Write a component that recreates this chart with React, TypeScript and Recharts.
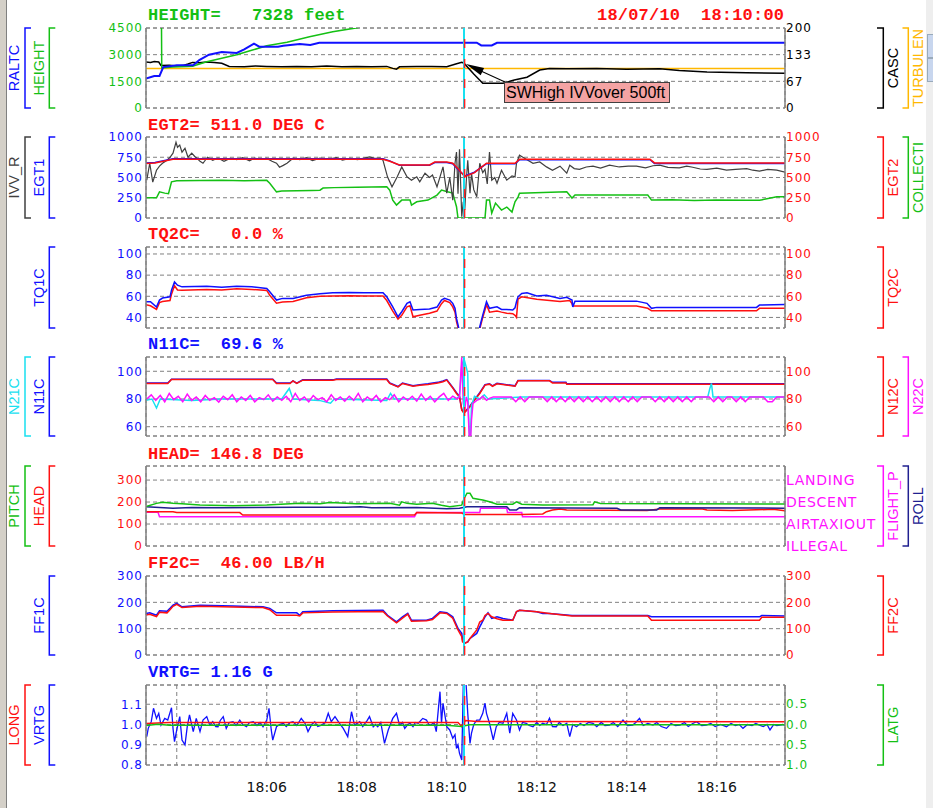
import React from 'react';
import { ComposedChart, Line, XAxis, YAxis, CartesianGrid, ReferenceLine } from 'recharts';

type P = [number, number];

// ---- time axis (seconds after 18:00:00) ----
const TIME_DOMAIN: [number, number] = [199, 1051];
const TIME_TICKS = [240, 360, 480, 600, 720, 840, 960];
const CURSOR_T = 623;
const DATE_LABEL = '18/07/10  18:10:00';

// ---- panel 1 : HEIGHT / RALTC / CASC / TURBULEN ----
const P1_TITLE = 'HEIGHT=   7328 feet';
const P1_LEFT_TICKS = [0, 1500, 3000, 4500];
const P1_RIGHT_TICKS = [0, 200 / 3, 400 / 3, 200];
const RALTC: P[] = [[199,1650],[210,1800],[217,1800],[222,2300],[240,2400],[262,2400],[270,2700],[283,3000],[300,3150],[320,3100],[330,3300],[343,3620],[350,3450],[375,3450],[382,3500],[404,3600],[418,3550],[430,3670],[640,3670],[646,3520],[660,3520],[667,3670],[1051,3670]];
const HEIGHT: P[] = [[199,9000],[219,9000],[220,2250],[235,2300],[261,2350],[280,2600],[300,2800],[320,3000],[341,3260],[360,3500],[387,3700],[417,4010],[448,4290],[481,4520],[520,4900],[623,7328],[1051,9000]];
const CASC: P[] = [[199,115],[205,114],[210,116],[216,115],[219,106],[230,107],[240,105],[248,106],[255,110],[261,114],[270,113],[280,115],[290,114],[300,112],[310,104],[330,103],[345,105],[360,104],[380,103],[400,104],[420,103],[440,105],[460,103],[480,104],[500,103],[520,104],[528,99],[533,97],[537,103],[560,104],[580,104],[600,103],[612,110],[620,114],[623,112],[636,85],[648,62],[675,62],[690,70],[707,77],[724,95],[737,99],[760,98],[800,99],[840,97],[884,98],[910,94],[947,90],[1000,88],[1051,87]];
const TURBULEN: P[] = [[199,99],[1051,99]];

// ---- panel 2 : EGT ----
const P2_TITLE = 'EGT2= 511.0 DEG C';
const P2_TICKS = [0, 250, 500, 750, 1000];
const EGT2: P[] = [[199,673],[211,680],[235,726],[515,726],[524,700],[537,655],[577,655],[584,690],[600,690],[608,676],[616,600],[624,511],[637,560],[653,676],[691,676],[697,726],[871,726],[877,680],[1051,680]];
const EGT1: P[] = [[199,680],[211,685],[235,730],[515,730],[524,705],[537,650],[577,650],[584,685],[600,685],[608,670],[616,590],[624,520],[637,565],[653,670],[691,670],[697,720],[871,720],[877,672],[1051,672]];
const IVV_R: P[] = [[200,467],[204,676],[208,443],[213,590],[217,640],[221,676],[227,713],[231,750],[235,800],[239,935],[241,873],[244,900],[247,812],[251,860],[255,750],[260,800],[264,760],[267,738],[271,700],[275,676],[281,750],[288,713],[295,740],[303,700],[311,735],[320,720],[328,745],[337,705],[344,740],[351,725],[360,735],[367,700],[373,676],[377,627],[382,650],[387,676],[395,738],[404,720],[413,745],[421,710],[431,740],[441,725],[453,745],[461,715],[471,735],[481,720],[490,740],[497,754],[505,735],[511,740],[515,713],[521,508],[527,385],[534,508],[540,631],[547,508],[553,467],[560,508],[564,447],[571,553],[577,500],[581,530],[587,385],[591,508],[595,631],[600,307],[604,500],[608,221],[611,676],[613,815],[615,300],[617,850],[620,16],[622,200],[624,98],[626,450],[628,713],[631,307],[633,550],[636,350],[640,262],[644,676],[648,560],[651,600],[654,420],[657,815],[660,467],[664,500],[667,430],[673,590],[680,467],[687,520],[691,508],[693,676],[697,775],[701,754],[707,720],[715,676],[724,692],[733,631],[741,590],[751,640],[760,553],[764,652],[770,610],[777,600],[786,630],[795,640],[805,615],[817,652],[830,630],[842,640],[853,640],[865,620],[875,645],[884,652],[895,625],[910,620],[920,640],[928,627],[938,605],[947,600],[960,615],[973,590],[985,600],[1000,610],[1008,590],[1017,580],[1028,600],[1040,590],[1051,566]];
const COLLECTI: P[] = [[199,250],[213,250],[217,323],[224,307],[229,300],[233,447],[240,460],[300,467],[330,460],[360,465],[364,430],[373,323],[380,332],[420,340],[431,344],[435,369],[450,375],[480,380],[520,385],[524,344],[528,221],[533,160],[540,221],[551,221],[553,160],[560,200],[575,221],[587,283],[591,323],[593,344],[601,323],[608,307],[613,139],[615,0],[651,0],[653,221],[657,221],[660,61],[665,184],[673,98],[680,135],[687,74],[691,200],[695,258],[697,307],[760,323],[767,246],[771,283],[868,283],[873,221],[900,225],[930,215],[960,222],[1000,220],[1017,218],[1040,262],[1051,262]];

// ---- panel 3 : torque ----
const P3_TITLE = 'TQ2C=   0.0 %';
const P3_TICKS = [40, 60, 80, 100];
const TQ1C: P[] = [[199,54.8],[205,54.8],[213,49.8],[217,56.4],[221,58.3],[231,59.5],[233,65.8],[237,73.6],[241,70.5],[247,68.9],[280,69.5],[300,68.5],[320,69.5],[340,69],[360,67.4],[364,64.2],[373,56.4],[381,58],[395,58],[413,61],[431,62.5],[448,63.3],[470,63.5],[490,63.3],[515,63.3],[520,59.5],[528,50],[535,40.6],[540,45.4],[547,53.3],[551,54.8],[555,47],[564,47.5],[577,47.9],[587,49.8],[593,56.4],[597,58],[604,56.4],[608,53.3],[611,48.6],[613,39.1],[616,30],[618,10],[643,10],[644,31],[648,42.2],[653,54.8],[657,48.6],[667,50],[673,47.5],[680,47.6],[688,47],[691,49],[693,54.8],[695,59.5],[700,62.7],[707,63.3],[720,60.2],[733,61],[751,58],[760,59],[764,57.5],[767,56.4],[768,50],[771,55.4],[853,55.4],[867,53.3],[873,48.6],[880,49.5],[1013,49.5],[1017,51.7],[1051,52.3]];
const TQ2C: P[] = [[199,52],[205,51],[213,47.5],[217,54],[221,55],[231,56],[233,62],[237,70],[241,66],[247,65.8],[280,66.5],[300,66],[320,67],[340,66.5],[360,65.5],[364,61],[373,53.5],[381,54.5],[395,55],[413,58.5],[431,60],[448,60.2],[470,60.5],[490,60.2],[515,60.2],[520,56],[528,46],[535,38.5],[540,42],[547,50],[551,51],[555,40.6],[564,42],[577,44],[587,46],[593,53],[597,56],[604,54],[608,50],[611,45],[613,36],[616,28],[618,10],[643,10],[644,29],[648,40],[653,52],[657,45],[667,46],[673,45],[680,44],[688,43.5],[691,42],[693,40],[695,57.3],[700,59.5],[720,57.3],[751,55],[764,56],[767,53],[768,50.7],[853,50.7],[868,48.6],[873,46.3],[1013,46.3],[1017,48.6],[1051,48.6]];

// ---- panel 4 : N1 / N2 ----
const P4_TITLE = 'N11C=  69.6 %';
const P4_TICKS = [60, 80, 100];
const N12C: P[] = [[199,91.2],[228,91.2],[233,94],[368,94],[373,91.2],[391,91.2],[395,93],[400,91.2],[408,93.6],[448,93.6],[453,94],[520,94],[524,91.2],[535,88.7],[541,91.2],[555,89.2],[564,90],[575,90.5],[588,91.6],[595,92.5],[600,93.6],[607,88.7],[613,84],[617,81.5],[620,72],[623,69.8],[627,72],[631,74.4],[637,79.2],[644,84],[651,90],[657,90.7],[661,89.2],[667,91],[691,89.2],[695,93.1],[737,93.1],[741,91.6],[759,91.6],[760,90.7],[1051,90.7]];
const N11C: P[] = [[199,91.5],[228,91.5],[233,94.2],[368,94.2],[373,91.5],[391,91.5],[395,93],[400,91.5],[408,93.8],[448,93.8],[453,94.4],[520,94.4],[524,91.5],[535,89],[541,91.5],[555,89.5],[564,90.3],[575,91],[588,92],[595,93],[600,94],[607,89],[613,84.5],[617,82],[620,72.5],[623,70],[627,72.5],[631,75],[637,79.5],[644,84.5],[651,90.3],[657,91],[661,89.5],[667,91.3],[691,89.5],[695,93.4],[737,93.4],[741,92],[759,92],[760,91],[1051,91]];
const N21C: P[] = [[199,79],[207,80],[213,73.5],[218,80],[260,79],[300,80],[380,80],[390,87.6],[395,80],[430,79],[445,77],[450,80],[520,79],[525,84],[530,80],[600,80],[612,80],[617,82],[620,104],[623,109],[626,103],[628,98.4],[629,70],[631,45],[633,75],[637,82],[644,80],[650,83],[655,80],[700,81.5],[948,81.5],[951,88],[953,91.2],[955,81.5],[1051,81.5]];
const N22C: P[] = [[200,80],[206,83],[212,79],[218,82.5],[224,78],[230,84],[236,79.5],[242,82],[248,78],[254,83.5],[260,79],[266,81.5],[272,78],[278,82.5],[284,79],[290,81],[296,77.8],[302,82],[308,79.5],[314,83],[320,78],[326,81.5],[332,79],[338,82.5],[344,78],[350,81],[356,79.5],[362,83],[368,78.5],[374,81.5],[380,79],[386,82],[392,78],[398,84],[404,79],[410,81.5],[416,78],[422,82.5],[428,79.5],[434,81],[440,78],[446,83],[452,79],[458,81.5],[464,78.5],[470,82],[476,79],[482,84],[488,78],[494,81.5],[500,79],[506,82.5],[512,78],[518,81],[524,79.5],[530,83],[536,78],[542,81.5],[548,79],[554,82],[560,78.5],[566,83.5],[572,79],[578,82],[584,78],[590,81.5],[596,84],[602,79],[608,82],[614,80],[617,81.5],[620,110],[622,77],[624,72],[626,81.5],[628,78],[631,40],[633,65],[635,76.8],[640,79],[644,80],[648,82],[653,79],[657,80.5],[662,81.5],[686,81.5],[692,78],[698,81.5],[704,78],[710,81.5],[728,81.5],[734,78],[740,81.5],[746,78],[752,81.5],[758,78],[764,81.5],[770,78],[776,81.5],[782,78],[788,81.5],[794,78],[800,81.5],[806,78],[812,81.5],[818,78],[824,81.5],[830,78],[836,81.5],[842,78],[848,81.5],[854,78],[860,81.5],[872,81.5],[878,78],[884,81.5],[890,78],[896,81.5],[902,78],[908,81.5],[914,78],[920,81.5],[926,78],[932,81.5],[950,81.5],[956,78],[962,81.5],[968,78],[974,81.5],[980,81.5],[986,78],[992,81.5],[998,78],[1004,81.5],[1022,81.5],[1028,78],[1034,78],[1040,81.5],[1051,81.5]];

// ---- panel 5 : heading / pitch / roll / flight phase ----
const P5_TITLE = 'HEAD= 146.8 DEG';
const P5_TICKS = [0, 100, 200, 300];
const PHASE_TICKS = [0, 1, 2, 3];
const PHASE_NAMES = ['ILLEGAL', 'AIRTAXIOUT', 'DESCENT', 'LANDING'];
const PITCH: P[] = [[199,179],[213,194],[221,199],[235,194],[247,192],[271,186],[315,183],[360,186],[404,194],[431,192],[444,198],[480,192],[524,194],[537,186],[540,201],[547,194],[560,190],[581,194],[593,185],[604,179],[620,186],[623,215],[627,240],[631,240],[635,217],[644,212],[648,209],[657,201],[667,190],[688,190],[693,201],[700,190],[728,186],[795,188],[797,201],[805,193],[1051,191]];
const ROLL: P[] = [[199,179],[235,172],[260,175],[300,174],[400,176],[465,176],[485,179],[500,174],[560,175],[600,170],[617,172],[627,179],[680,179],[684,164],[693,164],[697,174],[827,172],[832,164],[880,164],[884,174],[1051,172]];
const HEAD: P[] = [[199,156],[235,156],[240,152],[324,152],[328,141],[557,141],[560,152],[620,150],[624,143],[700,143],[728,146],[733,156],[741,164],[751,168],[760,164],[867,161],[884,168],[941,168],[947,164],[981,161],[1035,167],[1051,160]];
const FLIGHT_P: P[] = [[199,1.53],[215,1.53],[217,1.33],[557,1.33],[560,1.52],[644,1.52],[645,1.72],[680,1.72],[681,1.52],[700,1.52],[701,1.33],[1051,1.33]];

// ---- panel 6 : fuel flow ----
const P6_TITLE = 'FF2C=  46.00 LB/H';
const P6_TICKS = [0, 100, 200, 300];
const FF1C: P[] = [[199,158],[204,160],[213,151],[217,168],[227,166],[231,177],[235,189],[240,196],[247,183],[271,189],[315,186],[355,183],[364,177],[373,160],[400,160],[404,151],[408,164],[448,168],[515,170],[521,151],[533,126],[541,145],[548,158],[553,132],[573,132],[581,139],[591,164],[600,161],[608,145],[615,101],[620,82],[621,57],[624,46],[628,50],[631,63],[640,82],[644,107],[651,145],[655,160],[660,139],[667,145],[675,139],[688,132],[693,164],[697,170],[720,164],[728,158],[737,158],[767,150],[868,150],[873,145],[1017,145],[1020,150],[1051,148]];
const FF2C: P[] = [[199,152],[204,155],[213,146],[217,162],[227,160],[231,172],[235,185],[240,192],[247,180],[271,185],[315,182],[355,180],[364,172],[373,151],[400,151],[404,148],[408,160],[448,163],[515,165],[521,148],[533,122],[541,140],[548,155],[553,128],[573,130],[581,135],[591,160],[600,158],[608,140],[615,95],[620,70],[621,50],[624,44],[628,50],[631,63],[640,95],[644,125],[648,132],[651,150],[655,158],[660,145],[667,138],[675,132],[688,132],[693,165],[697,170],[720,164],[737,158],[767,148],[868,148],[873,132],[1017,132],[1020,143],[1051,143]];

// ---- panel 7 : accelerations ----
const P7_TITLE = 'VRTG= 1.16 G';
const P7_LEFT_TICKS = [0.8, 0.9, 1.0, 1.1];
const P7_RIGHT_TICKS = [-1, -0.5, 0, 0.5];
const VRTG: P[] = [[200,0.94],[202,0.981],[206,1.014],[209,1.08],[213,1.03],[216,1.055],[219,0.997],[224,1.03],[228,1.022],[233,1.083],[235,0.981],[237,0.915],[240,0.973],[244,1.039],[247,0.923],[251,0.899],[254,0.989],[257,1.047],[262,0.965],[266,1.03],[271,0.965],[275,1.022],[280,1.039],[284,0.997],[288,1.014],[292,0.99],[295,0.989],[298,1.02],[302,1.039],[306,0.981],[310,1.01],[315,1.014],[319,0.995],[324,1.022],[328,1.0],[333,0.989],[337,1.01],[342,1.014],[347,0.995],[351,1.01],[355,0.989],[360,1.022],[363,1.08],[366,0.973],[368,0.923],[373,0.989],[377,1.0],[382,1.006],[386,0.99],[391,1.01],[395,1.014],[400,0.995],[406,1.03],[411,1.006],[415,0.965],[420,1.0],[424,1.014],[428,0.99],[433,0.997],[438,1.01],[442,1.055],[446,1.014],[451,1.039],[457,1.006],[462,0.981],[468,0.94],[473,1.063],[477,0.997],[484,1.014],[488,0.99],[491,1.006],[494,1.02],[497,1.039],[502,0.989],[505,1.0],[508,0.989],[512,1.01],[517,0.907],[522,0.973],[528,1.03],[533,1.055],[537,0.997],[541,1.01],[544,0.981],[548,1.0],[551,1.006],[555,0.989],[558,1.01],[562,1.006],[568,1.03],[573,1.022],[576,1.0],[579,0.997],[583,1.01],[586,0.965],[591,1.162],[593,1.006],[595,1.105],[600,0.989],[604,0.973],[608,0.932],[611,0.95],[613,0.882],[615,0.9],[617,0.858],[620,0.825],[622,1.187],[623,1.25],[625,1.25],[626,1.187],[628,1.055],[631,0.907],[633,0.957],[636,1.0],[640,1.022],[644,1.022],[648,1.055],[651,1.105],[653,1.055],[657,1.006],[662,0.924],[666,0.989],[670,1.01],[675,1.006],[680,1.055],[684,0.957],[688,1.055],[693,1.022],[697,0.973],[701,1.01],[706,1.006],[710,0.995],[715,0.989],[720,1.01],[724,0.995],[728,1.006],[733,1.0],[737,1.031],[741,0.99],[746,0.989],[750,1.01],[755,0.995],[760,1.006],[764,0.94],[768,1.0],[773,0.989],[778,1.005],[783,0.995],[789,1.01],[795,1.006],[800,0.99],[806,1.01],[811,0.995],[817,0.997],[822,1.01],[828,0.99],[835,1.022],[841,0.995],[848,0.997],[852,1.01],[857,1.03],[862,0.995],[868,1.005],[875,0.997],[880,1.01],[886,0.99],[893,0.981],[899,1.005],[905,0.995],[911,0.997],[917,1.01],[922,0.99],[928,1.005],[933,1.014],[940,0.995],[946,0.997],[952,1.005],[958,0.99],[965,1.0],[973,0.989],[979,1.005],[985,0.995],[990,1.0],[995,0.981],[1001,1.0],[1007,0.995],[1012,1.005],[1017,0.997],[1022,0.99],[1027,1.0],[1031,0.973],[1036,1.0],[1040,0.995],[1044,0.997],[1048,1.0],[1051,0.995]];
const LONG: P[] = [[199,1.005],[230,1.01],[600,1.01],[615,1.01],[620,0.99],[625,1.02],[640,1.015],[1051,1.014]];
const LATG: P[] = [[199,-0.03],[215,0.0],[230,-0.02],[600,-0.02],[620,-0.05],[630,-0.01],[1051,-0.01]];

const ANNOTATION = 'SWHigh IVVover 500ft';

// ---- styles ----
const C = {
  blue: '#1010ff', green: '#14c014', red: '#ff1010', black: '#000000', orange: '#ffb800',
  gray: '#404040', cyan: '#18e0f0', magenta: '#ff10ff', navy: '#202090', grid: '#808080',
};
const TICK_FONT = "'DejaVu Sans', sans-serif";
const SIDE_FONT = "'Liberation Sans', Arial, sans-serif";
const TITLE_FONT = "'Liberation Mono', 'DejaVu Sans Mono', monospace";

type Side = { text: string; color: string };
type Ser = { data: P[]; color: string; axis: 'L' | 'R'; w?: number };
type Ax = { domain: [number, number]; ticks: number[]; color: string; fmt?: (v: number) => string; cat?: boolean };
type PanelDef = {
  top: number; h: number; title: string; titleColor: string;
  left: Ax; right: Ax; series: Ser[];
  outerL?: Side; innerL?: Side; innerR?: Side; outerR?: Side;
};

const PANELS: PanelDef[] = [
  {
    top: 28, h: 80, title: P1_TITLE, titleColor: C.green,
    left: { domain: [0, 4500], ticks: P1_LEFT_TICKS, color: C.green },
    right: { domain: [0, 200], ticks: P1_RIGHT_TICKS, color: C.black, fmt: (v) => String(Math.round(v)) },
    series: [
      { data: TURBULEN, color: C.orange, axis: 'R', w: 1.5 },
      { data: CASC, color: C.black, axis: 'R', w: 1.5 },
      { data: HEIGHT, color: C.green, axis: 'L', w: 1.5 },
      { data: RALTC, color: C.blue, axis: 'L', w: 2 },
    ],
    outerL: { text: 'RALTC', color: C.blue }, innerL: { text: 'HEIGHT', color: C.green },
    innerR: { text: 'CASC', color: C.black }, outerR: { text: 'TURBULEN', color: C.orange },
  },
  {
    top: 137, h: 81, title: P2_TITLE, titleColor: C.red,
    left: { domain: [0, 1000], ticks: P2_TICKS, color: C.blue },
    right: { domain: [0, 1000], ticks: P2_TICKS, color: C.red },
    series: [
      { data: COLLECTI, color: C.green, axis: 'R', w: 1.5 },
      { data: IVV_R, color: C.gray, axis: 'L', w: 1.2 },
      { data: EGT1, color: C.blue, axis: 'L', w: 1.5 },
      { data: EGT2, color: C.red, axis: 'R', w: 1.5 },
    ],
    outerL: { text: 'IVV_R', color: C.gray }, innerL: { text: 'EGT1', color: C.blue },
    innerR: { text: 'EGT2', color: C.red }, outerR: { text: 'COLLECTI', color: C.green },
  },
  {
    top: 247, h: 81, title: P3_TITLE, titleColor: C.red,
    left: { domain: [30, 106.6], ticks: P3_TICKS, color: C.blue },
    right: { domain: [30, 106.6], ticks: P3_TICKS, color: C.red },
    series: [
      { data: TQ2C, color: C.red, axis: 'R', w: 1.5 },
      { data: TQ1C, color: C.blue, axis: 'L', w: 1.5 },
    ],
    innerL: { text: 'TQ1C', color: C.blue }, innerR: { text: 'TQ2C', color: C.red },
  },
  {
    top: 357, h: 79, title: P4_TITLE, titleColor: C.blue,
    left: { domain: [53.3, 110.3], ticks: P4_TICKS, color: C.blue },
    right: { domain: [53.3, 110.3], ticks: P4_TICKS, color: C.red },
    series: [
      { data: N11C, color: C.blue, axis: 'L', w: 1.5 },
      { data: N12C, color: C.red, axis: 'R', w: 1.5 },
      { data: N21C, color: C.cyan, axis: 'L', w: 1.5 },
      { data: N22C, color: C.magenta, axis: 'R', w: 1.5 },
    ],
    outerL: { text: 'N21C', color: C.cyan }, innerL: { text: 'N11C', color: C.blue },
    innerR: { text: 'N12C', color: C.red }, outerR: { text: 'N22C', color: C.magenta },
  },
  {
    top: 466, h: 80, title: P5_TITLE, titleColor: C.red,
    left: { domain: [0, 364], ticks: P5_TICKS, color: C.red },
    right: { domain: [0, 3.64], ticks: PHASE_TICKS, color: C.magenta, fmt: (v) => PHASE_NAMES[v] ?? '', cat: true },
    series: [
      { data: FLIGHT_P, color: C.magenta, axis: 'R', w: 1.5 },
      { data: HEAD, color: C.red, axis: 'L', w: 1.5 },
      { data: ROLL, color: C.navy, axis: 'L', w: 1.5 },
      { data: PITCH, color: C.green, axis: 'L', w: 1.5 },
    ],
    outerL: { text: 'PITCH', color: C.green }, innerL: { text: 'HEAD', color: C.red },
    innerR: { text: 'FLIGHT_P', color: C.magenta }, outerR: { text: 'ROLL', color: C.navy },
  },
  {
    top: 576, h: 79, title: P6_TITLE, titleColor: C.red,
    left: { domain: [0, 300], ticks: P6_TICKS, color: C.blue },
    right: { domain: [0, 300], ticks: P6_TICKS, color: C.red },
    series: [
      { data: FF1C, color: C.blue, axis: 'L', w: 1.5 },
      { data: FF2C, color: C.red, axis: 'R', w: 1.5 },
    ],
    innerL: { text: 'FF1C', color: C.blue }, innerR: { text: 'FF2C', color: C.red },
  },
  {
    top: 685, h: 80, title: P7_TITLE, titleColor: C.blue,
    left: { domain: [0.8, 1.195], ticks: P7_LEFT_TICKS, color: C.blue, fmt: (v) => v.toFixed(1) },
    right: { domain: [-1, 0.968], ticks: P7_RIGHT_TICKS, color: C.green, fmt: (v) => Math.abs(v).toFixed(1) },
    series: [
      { data: VRTG, color: C.blue, axis: 'L', w: 1.3 },
      { data: LONG, color: C.red, axis: 'L', w: 1.5 },
      { data: LATG, color: C.green, axis: 'R', w: 1.5 },
    ],
    outerL: { text: 'LONG', color: C.red }, innerL: { text: 'VRTG', color: C.blue },
    innerR: { text: 'LATG', color: C.green },
  },
];

const toData = (s: P[]) => s.map(([t, v]) => ({ t, v }));
const fmtTime = (t: number) => (t === 240 ? '' : `18:${String(Math.floor(t / 60) - 0).padStart(2, '0')}`.replace(/^18:(\d+)$/, (_m, m) => `18:${String(Number(m) % 60).padStart(2, '0')}`));

function Panel({ p, last }: { p: PanelDef; last: boolean }) {
  const mt = 8;
  const mb = last ? 0 : 8;
  const xh = last ? 30 : 0;
  const height = p.h + mt + mb + xh;
  const tickStyle = (color: string, cat?: boolean) => ({
    fill: color, fontSize: cat ? 14 : 12, fontFamily: TICK_FONT, letterSpacing: cat ? 0.7 : 1,
  });
  return (
    <div style={{ position: 'absolute', left: 0, top: p.top - mt }}>
      <ComposedChart width={933} height={height} margin={{ top: mt, right: 0, bottom: mb, left: 0 }}>
        <CartesianGrid xAxisId="x" yAxisId="L" stroke={C.grid} strokeDasharray="4 3" />
        <XAxis
          xAxisId="x" dataKey="t" type="number" domain={TIME_DOMAIN} allowDataOverflow ticks={TIME_TICKS}
          height={xh} axisLine={false} tickLine={false} tickSize={0} tickMargin={17}
          tick={last ? { fill: '#111', fontSize: 14, fontFamily: TICK_FONT } : false}
          tickFormatter={(t: number) => (t === 240 ? '' : `18:${String(Math.floor(t / 60) % 60).padStart(2, '0')}`)}
          interval={0}
        />
        <YAxis
          yAxisId="L" orientation="left" width={146} type="number" domain={p.left.domain} ticks={p.left.ticks}
          allowDataOverflow interval={0} tickLine={false} tickSize={0} tickMargin={3}
          axisLine={{ stroke: C.grid, strokeWidth: 1.5 }} tick={tickStyle(p.left.color)}
          tickFormatter={p.left.fmt ?? ((v: number) => String(v))}
        />
        <YAxis
          yAxisId="R" orientation="right" width={148} type="number" domain={p.right.domain} ticks={p.right.ticks}
          allowDataOverflow interval={0} tickLine={false} tickSize={0} tickMargin={1}
          axisLine={{ stroke: C.grid, strokeWidth: 1.5 }} tick={tickStyle(p.right.color, p.right.cat)}
          tickFormatter={p.right.fmt ?? ((v: number) => String(v))}
        />
        <ReferenceLine xAxisId="x" yAxisId="L" y={p.left.domain[1]} stroke={C.grid} strokeDasharray="4 3" />
        <ReferenceLine xAxisId="x" yAxisId="L" y={p.left.domain[0]} stroke={C.grid} strokeDasharray="4 3" />
        {p.series.map((s, i) => (
          <Line
            key={i} xAxisId="x" yAxisId={s.axis} data={toData(s.data)} dataKey="v" type="linear"
            stroke={s.color} strokeWidth={s.w ?? 1.5} dot={false} activeDot={false} isAnimationActive={false}
          />
        ))}
        <ReferenceLine xAxisId="x" yAxisId="L" x={CURSOR_T} stroke={C.cyan} strokeWidth={2} />
        <ReferenceLine xAxisId="x" yAxisId="L" x={CURSOR_T + 0.8} stroke="#ff2020" strokeWidth={1.5} strokeDasharray="9 11" />
      </ComposedChart>
    </div>
  );
}

const SLOT = {
  outerL: { text: 14, bar: 25, stub: 31 },
  innerL: { text: 38.5, bar: 49.3, stub: 55.3 },
  innerR: { text: 892.5, bar: 883.3, stub: 877 },
  outerR: { text: 918, bar: 908.3, stub: 902.5 },
};

function SideLabels() {
  const els: React.ReactNode[] = [];
  PANELS.forEach((p, i) => {
    (['outerL', 'innerL', 'innerR', 'outerR'] as const).forEach((k) => {
      const s = p[k];
      if (!s) return;
      const g = SLOT[k];
      const y0 = p.top;
      const y1 = p.top + p.h;
      const cy = (y0 + y1) / 2;
      els.push(
        <g key={`${i}-${k}`}>
          <path d={`M${g.stub},${y0} H${g.bar} V${y1} H${g.stub}`} fill="none" stroke={s.color} strokeWidth={1.5} />
          <text
            x={g.text} y={cy} transform={`rotate(-90 ${g.text} ${cy})`} textAnchor="middle" dominantBaseline="central"
            fill={s.color} fontSize={14.5} fontFamily={SIDE_FONT}
          >{s.text}</text>
        </g>
      );
    });
  });
  return <>{els}</>;
}

export default function App() {
  const titleStyle = (color: string, left: number, cy: number): React.CSSProperties => ({
    position: 'absolute', left, top: cy - 10, height: 20, lineHeight: '20px', color,
    fontFamily: TITLE_FONT, fontWeight: 'bold', fontSize: 17, letterSpacing: 0.2, whiteSpace: 'pre',
  });
  const titleY = [16, 126, 235, 345, 455, 564, 673];
  return (
    <div style={{ position: 'absolute', left: 0, top: 0, width: 933, height: 808, background: '#fff', overflow: 'hidden' }}>
      {PANELS.map((p, i) => (
        <Panel key={i} p={p} last={i === PANELS.length - 1} />
      ))}
      {PANELS.map((p, i) => (
        <div key={`t${i}`} style={titleStyle(p.titleColor, 148, titleY[i])}>{p.title}</div>
      ))}
      <div style={titleStyle(C.red, 597, 16)}>{DATE_LABEL}</div>
      <svg width={933} height={808} style={{ position: 'absolute', left: 0, top: 0, pointerEvents: 'none' }}>
        <SideLabels />
        <line x1={505} y1={82} x2={470} y2={66} stroke="#000" strokeWidth={1.2} />
        <polygon points="466,64 480.7,75.2 484.1,68" fill="#000" />
      </svg>
      <div
        style={{
          position: 'absolute', left: 504, top: 82, width: 163, height: 19, background: '#f4a3a3',
          border: '1px solid #404040', fontFamily: SIDE_FONT, fontSize: 16, lineHeight: '19px', color: '#000',
          whiteSpace: 'pre', paddingLeft: 1,
        }}
      >{ANNOTATION}</div>
      <div style={{ position: 'absolute', left: 0, top: 0, width: 6, height: 808, background: '#d4d0c8', borderRight: '1px solid #808080' }} />
      <div style={{ position: 'absolute', left: 926, top: 0, width: 7, height: 808, background: '#eeeeee' }}>
        <div style={{ position: 'absolute', left: 1, top: 34, width: 6, height: 22, background: '#c8d6ee', border: '1px solid #9ab' }} />
        <div style={{ position: 'absolute', left: 1, top: 58, width: 6, height: 22, background: '#c8d6ee', border: '1px solid #9ab' }} />
      </div>
    </div>
  );
}
